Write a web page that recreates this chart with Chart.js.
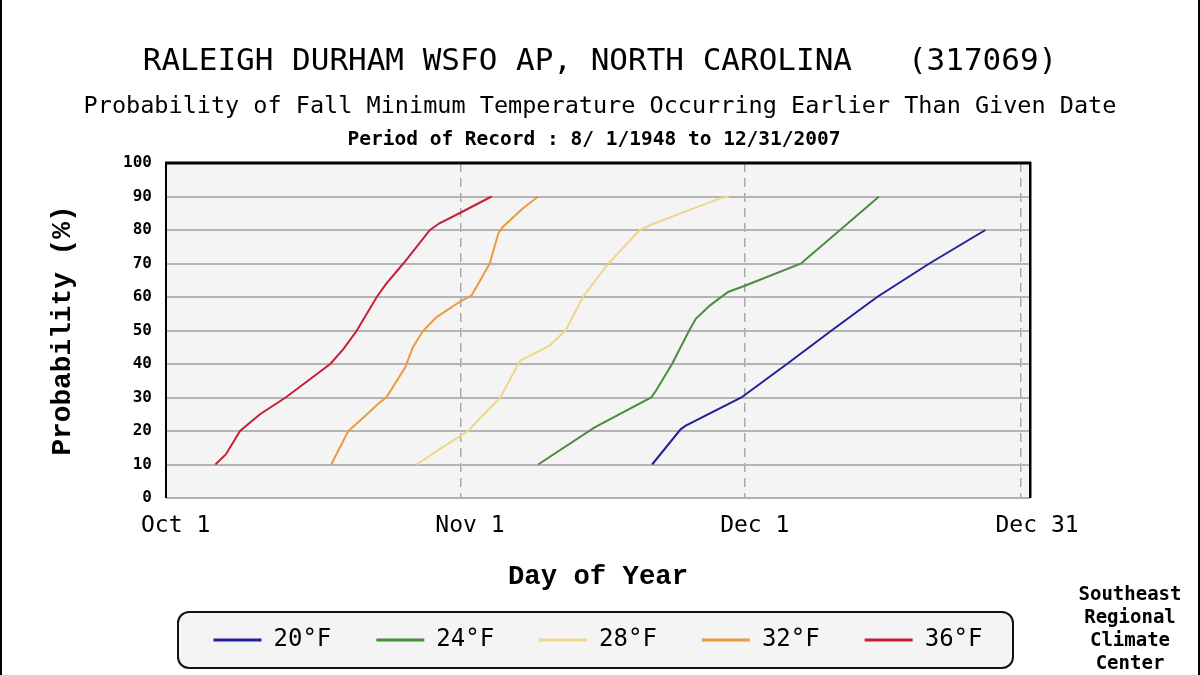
<!DOCTYPE html>
<html><head><meta charset="utf-8">
<script src="https://cdn.jsdelivr.net/npm/chart.js@4.4.1/dist/chart.umd.min.js"></script>
<style>html,body{margin:0;padding:0;background:#fff;}canvas{display:block;}</style>
</head><body>
<canvas id="c" width="1200" height="675"></canvas>
<script>
// ---- text ----
const titleText = 'RALEIGH DURHAM WSFO AP, NORTH CAROLINA   (317069)';
const subtitleText = 'Probability of Fall Minimum Temperature Occurring Earlier Than Given Date';
const periodText = 'Period of Record : 8/ 1/1948 to 12/31/2007';
const creditLines = ['Southeast', 'Regional', 'Climate', 'Center'];
const xTitle = 'Day of Year';
const yTitle = 'Probability (%)';

// ---- axes (x = days after Oct 1) ----
const xTickValues = [0, 31, 61, 90];
const xTickLabels = ['Oct 1', 'Nov 1', 'Dec 1', 'Dec 31'];
const xDashedLines = [31, 61, 90];

// ---- series ----
const seriesNames = ['20°F', '24°F', '28°F', '32°F', '36°F'];
const seriesColors = ['#20209a', '#4c8c40', '#f0d68a', '#eb9b3d', '#c42038'];

const days20 = [51.2, 54.2, 54.7, 60.6, 65.4, 70.1, 74.9, 80.4, 86.3];
const prob20 = [10, 20.5, 21.5, 30, 40, 50, 60, 70, 80];

const days24 = [39.2, 45.1, 51.1, 51.6, 53.3, 55.1, 55.8, 57.3, 59.2, 61.1, 66.9, 67.7, 70.6, 75.1];
const prob24 = [10, 21, 30, 32, 40, 50, 53.5, 57.5, 61.5, 63.5, 70, 72, 79, 90];

const days28 = [26.4, 28.5, 31.8, 34.5, 35.2, 37.3, 40.4, 42.1, 43.9, 46.6, 49.9, 51.0, 58.4, 59.3];
const prob28 = [10, 14, 20, 28, 30, 41, 45.5, 50, 60, 70, 80, 81.5, 89.5, 90];

const days32 = [17.4, 19.2, 20.8, 22.5, 23.2, 25.2, 26.0, 27.1, 28.5, 30.9, 32.2, 34.1, 35.0, 35.5, 37.6, 39.2];
const prob32 = [10, 20, 24, 28.5, 30, 39, 45, 50, 54, 58.5, 60.5, 70, 79, 81, 86.5, 90];

const days36 = [5.2, 6.3, 7.8, 9.9, 12.6, 17.3, 18.7, 20.1, 22.2, 23.2, 25.0, 27.8, 28.8, 30.9, 34.3];
const prob36 = [10, 13, 20, 25, 30, 40, 44.5, 50, 60, 64, 70, 80, 82, 85, 90];

const seriesDays = [days20, days24, days28, days32, days36];
const seriesProb = [prob20, prob24, prob28, prob32, prob36];

const datasets = seriesNames.map((name, i) => ({
  label: name,
  data: seriesDays[i].map((d, j) => ({x: d, y: seriesProb[i][j]})),
  borderColor: seriesColors[i],
  backgroundColor: seriesColors[i],
  borderWidth: 2,
  pointRadius: 0,
  tension: 0,
  fill: false
}));

const MONO = '"DejaVu Sans Mono", monospace';
const SERIFMONO = '"Liberation Mono", monospace';

const decor = {
  id: 'decor',
  beforeDraw(chart) {
    const {ctx, chartArea: a} = chart;
    ctx.save();
    ctx.fillStyle = '#fff';
    ctx.fillRect(0, 0, chart.width, chart.height);
    ctx.fillStyle = '#f4f4f4';
    ctx.fillRect(a.left, a.top, a.right - a.left, a.bottom - a.top);
    // legend frame
    const lg = chart.legend;
    if (lg) {
      let cy = lg.top + lg.options.labels.padding + 12;
      if (lg.legendHitBoxes && lg.legendHitBoxes.length) {
        const hb = lg.legendHitBoxes[0];
        cy = hb.top + hb.height / 2;
      }
      const x0 = a.left + 12, x1 = a.right - 17, y0 = cy - 28, y1 = cy + 28;
      ctx.beginPath();
      ctx.roundRect(x0, y0, x1 - x0, y1 - y0, 11);
      ctx.fillStyle = '#f4f4f4';
      ctx.fill();
      ctx.lineWidth = 2;
      ctx.strokeStyle = '#111';
      ctx.stroke();
    }
    ctx.fillStyle = '#000';
    ctx.textAlign = 'center';
    ctx.textBaseline = 'middle';
    ctx.font = 'bold 19.5px ' + MONO;
    ctx.fillText(periodText, 594, 140);
    ctx.font = 'bold 19px ' + MONO;
    creditLines.forEach((t, i) => ctx.fillText(t, 1130, 595 + i * 23));
    ctx.fillRect(0, 0, 2, chart.height);
    ctx.fillRect(chart.width - 2, 0, 2, chart.height);
    ctx.restore();
  },
  beforeDatasetsDraw(chart) {
    const {ctx, chartArea: a} = chart;
    ctx.save();
    ctx.fillStyle = '#b0b0b0';
    ctx.fillRect(a.left, a.bottom - 1, a.right - a.left, 2);
    ctx.fillStyle = '#000';
    ctx.fillRect(a.left - 1, a.top - 1.5, a.right - a.left + 2, 3);
    ctx.fillRect(a.right - 1, a.top - 1, 2.5, a.bottom - a.top + 1);
    ctx.fillRect(a.left - 1, a.top - 1, 2, a.bottom - a.top + 1);
    ctx.restore();
  }
};

new Chart(document.getElementById('c'), {
  type: 'line',
  data: {datasets},
  plugins: [decor],
  options: {
    responsive: false,
    animation: false,
    devicePixelRatio: 1,
    layout: {padding: {left: 0, right: 0, top: 0, bottom: 13}},
    plugins: {
      title: {
        display: true, text: titleText, color: '#000',
        font: {family: MONO, size: 31, weight: 'normal', lineHeight: 1.2},
        padding: {top: 43.4, bottom: 12.3}
      },
      subtitle: {
        display: true, text: subtitleText, color: '#000',
        font: {family: MONO, size: 23.5, weight: 'normal', lineHeight: 1.2},
        padding: {top: 0, bottom: 41.9}
      },
      legend: {
        display: true, position: 'bottom', fullSize: false,
        labels: {
          color: '#000',
          font: {family: MONO, size: 24},
          boxWidth: 48, boxHeight: 3, padding: 45,
          generateLabels(chart) {
            const items = Chart.defaults.plugins.legend.labels.generateLabels(chart);
            items.forEach(it => { it.lineWidth = 0; });
            return items;
          }
        }
      },
      tooltip: {enabled: false}
    },
    scales: {
      x: {
        type: 'linear', min: 0, max: 91,
        afterBuildTicks(scale) { scale.ticks = xTickValues.map(v => ({value: v})); },
        afterFit(scale) { scale.height = 85; },
        ticks: {
          autoSkip: false, maxRotation: 0, minRotation: 0,
          align: 'start', labelOffset: -25, padding: 14,
          color: '#000',
          font: {family: MONO, size: 23},
          callback(v) { const i = xTickValues.indexOf(v); return i >= 0 ? xTickLabels[i] : ''; }
        },
        grid: {
          drawTicks: false,
          lineWidth: 1.5,
          color(c) { return c.tick && xDashedLines.includes(c.tick.value) ? '#a9a9a9' : 'rgba(0,0,0,0)'; }
        },
        border: {display: false, dash: [9, 6]},
        title: {
          display: true, text: xTitle, color: '#000',
          font: {family: SERIFMONO, size: 27.3, weight: 'bold', lineHeight: 1.2},
          padding: {top: 0, bottom: -10.4}
        }
      },
      y: {
        type: 'linear', min: 0, max: 100,
        afterFit(scale) { scale.width = 166; },
        ticks: {
          stepSize: 10, padding: 14, color: '#000',
          font: {family: MONO, size: 16, weight: 'bold'}
        },
        grid: {
          drawTicks: false,
          lineWidth: 2,
          color(c) { const v = c.tick ? c.tick.value : 0; return (v === 0 || v === 100) ? 'rgba(0,0,0,0)' : '#b4b4b4'; }
        },
        border: {display: false},
        title: {
          display: true, text: yTitle, color: '#000',
          font: {family: SERIFMONO, size: 27.8, weight: 'bold', lineHeight: 1.2},
          padding: {top: 46, bottom: 0}
        }
      },
      yRight: {
        type: 'linear', position: 'right', display: true,
        afterFit(scale) { scale.width = 170; },
        ticks: {display: false},
        grid: {display: false, drawOnChartArea: false},
        border: {display: false}
      }
    }
  }
});
</script>
</body></html>
